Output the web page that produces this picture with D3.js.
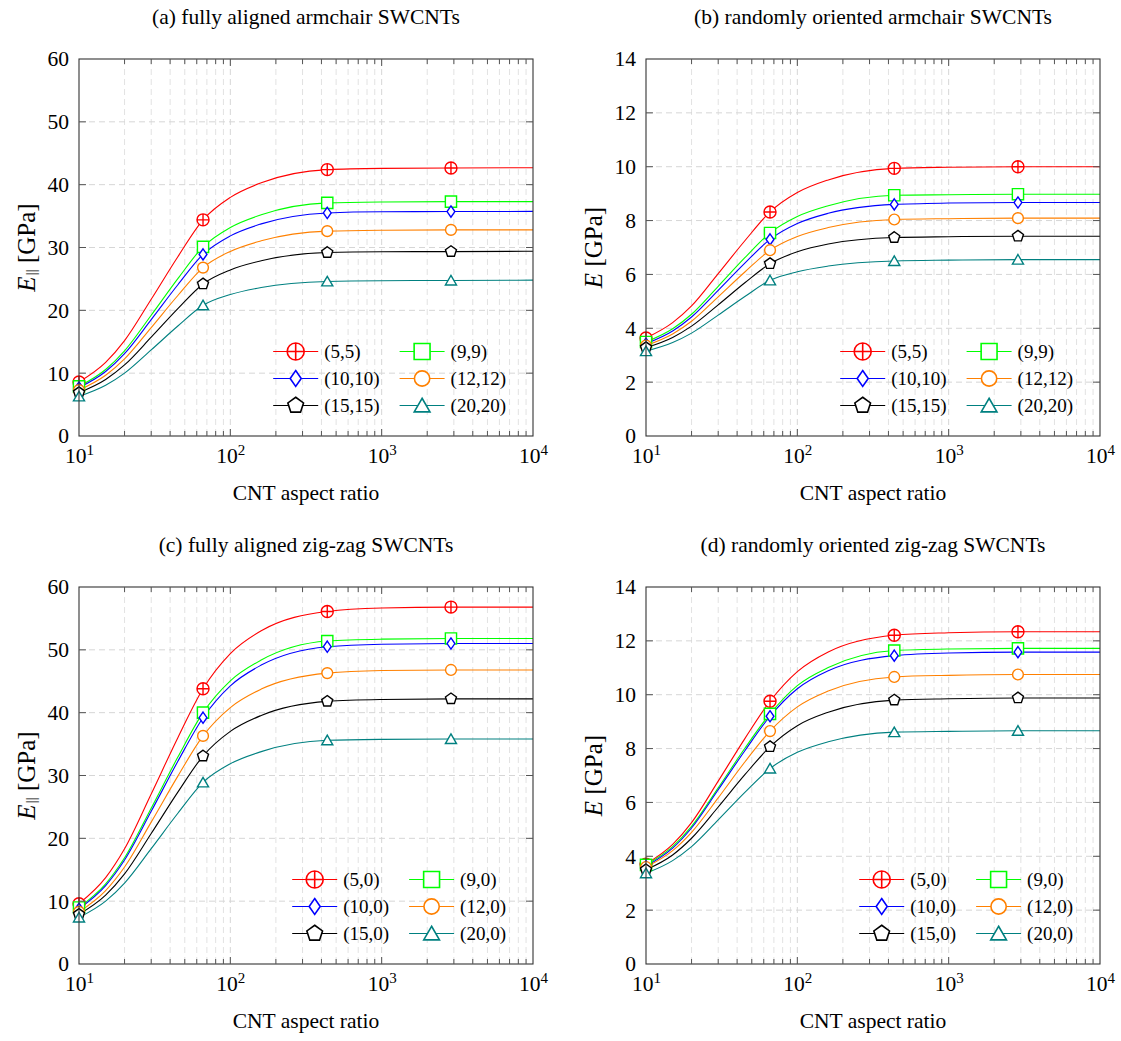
<!DOCTYPE html>
<html>
<head>
<meta charset="utf-8">
<script src="https://cdn.jsdelivr.net/npm/d3@7"></script>
<style>
body { margin: 0; background: #fff; }
text { font-family: "Liberation Serif", "Times New Roman", serif; fill: #000; }
</style>
</head>
<body>
<svg id="drawing_region"></svg>
<script>
const aspectRatio = [10, 15, 20, 30, 45, 66, 100, 160, 437, 1000, 2870, 10000];
const markerRatio = [10, 66, 437, 2870];

const armchairLabels = ["(5,5)", "(9,9)", "(10,10)", "(12,12)", "(15,15)", "(20,20)"];
const zigzagLabels = ["(5,0)", "(9,0)", "(10,0)", "(12,0)", "(15,0)", "(20,0)"];

// (a) fully aligned armchair, E_par [GPa]
const alignedArmchair = [
    [8.6, 11.72, 15.18, 21.76, 28.53, 34.4, 37.98, 40.30, 42.4, 42.6, 42.66, 42.7],
    [7.9, 10.59, 13.56, 19.22, 25.04, 30.1, 33.19, 35.21, 37.1, 37.25, 37.3, 37.3],
    [7.7, 10.27, 13.11, 18.52, 24.07, 28.9, 31.85, 33.76, 35.5, 35.7, 35.72, 35.75],
    [7.3, 9.66, 12.27, 17.25, 22.36, 26.8, 29.38, 31.06, 32.6, 32.75, 32.8, 32.8],
    [6.9, 8.99, 11.31, 15.72, 20.26, 24.2, 26.43, 27.89, 29.2, 29.33, 29.35, 29.4],
    [6.3, 8.06, 10.0, 13.70, 17.50, 20.8, 22.52, 23.64, 24.6, 24.72, 24.75, 24.8]
];
// (b) randomly oriented armchair, E [GPa]
const randomArmchair = [
    [3.64, 4.21, 4.83, 6.03, 7.25, 8.32, 9.04, 9.51, 9.94, 9.98, 10.0, 10.0],
    [3.49, 3.98, 4.52, 5.56, 6.62, 7.54, 8.15, 8.55, 8.94, 8.96, 8.98, 8.98],
    [3.43, 3.90, 4.42, 5.41, 6.42, 7.30, 7.89, 8.27, 8.60, 8.65, 8.67, 8.67],
    [3.36, 3.79, 4.26, 5.17, 6.09, 6.90, 7.41, 7.74, 8.04, 8.07, 8.09, 8.09],
    [3.28, 3.66, 4.08, 4.87, 5.69, 6.40, 6.84, 7.13, 7.37, 7.40, 7.42, 7.42],
    [3.15, 3.47, 3.82, 4.49, 5.18, 5.78, 6.10, 6.31, 6.50, 6.53, 6.55, 6.55]
];
// (c) fully aligned zig-zag
const alignedZigzag = [
    [9.6, 13.74, 18.33, 27.05, 36.02, 43.8, 49.4, 53.03, 56.1, 56.65, 56.8, 56.8],
    [9.0, 12.75, 16.90, 24.8, 32.93, 40.0, 45.07, 48.38, 51.4, 51.7, 51.8, 51.8],
    [8.8, 12.48, 16.55, 24.3, 32.26, 39.2, 44.27, 47.57, 50.5, 50.9, 51.0, 51.0],
    [8.3, 11.69, 15.44, 22.58, 29.9, 36.3, 40.81, 43.75, 46.3, 46.7, 46.8, 46.8],
    [7.9, 10.95, 14.33, 20.76, 27.35, 33.1, 37.02, 39.56, 41.8, 42.1, 42.2, 42.2],
    [7.4, 10.0, 12.88, 18.36, 23.99, 28.9, 31.87, 33.80, 35.6, 35.75, 35.8, 35.8]
];
// (d) randomly oriented zig-zag
const randomZigzag = [
    [3.71, 4.44, 5.25, 6.79, 8.37, 9.76, 10.86, 11.59, 12.21, 12.30, 12.34, 12.34],
    [3.68, 4.36, 5.11, 6.54, 8.01, 9.29, 10.34, 11.01, 11.64, 11.70, 11.72, 11.72],
    [3.63, 4.30, 5.05, 6.47, 7.92, 9.20, 10.22, 10.89, 11.45, 11.55, 11.58, 11.58],
    [3.60, 4.21, 4.89, 6.17, 7.50, 8.65, 9.55, 10.14, 10.66, 10.72, 10.75, 10.75],
    [3.50, 4.05, 4.67, 5.83, 7.03, 8.07, 8.85, 9.35, 9.80, 9.85, 9.88, 9.88],
    [3.37, 3.84, 4.36, 5.35, 6.37, 7.26, 7.86, 8.25, 8.61, 8.64, 8.66, 8.66]
];

const seriesColors = ['#ff0000', '#00ff00', '#0000ff', '#ff8000', '#000000', '#008080'];
const seriesShapes = ['oplus', 'square', 'diamond', 'circle', 'pentagon', 'triangle'];

const panels = [
    { title: "(a) fully aligned armchair SWCNTs", parallel: true, ymax: 60, ystep: 10,
      left: 79, top: 59, series: alignedArmchair, labels: armchairLabels },
    { title: "(b) randomly oriented armchair SWCNTs", parallel: false, ymax: 14, ystep: 2,
      left: 646, top: 59, series: randomArmchair, labels: armchairLabels },
    { title: "(c) fully aligned zig-zag SWCNTs", parallel: true, ymax: 60, ystep: 10,
      left: 79, top: 587, series: alignedZigzag, labels: zigzagLabels },
    { title: "(d) randomly oriented zig-zag SWCNTs", parallel: false, ymax: 14, ystep: 2,
      left: 646, top: 587, series: randomZigzag, labels: zigzagLabels }
];

const W = 454, H = 377;
const SERIF = '"Liberation Serif", "Times New Roman", serif';

const svg = d3.select('#drawing_region')
    .attr('width', 1121)
    .attr('height', 1041);

function markerPath(shape, s) {
    if (shape === 'oplus') {
        const r = 6 * s;
        return `M${-r},0A${r},${r} 0 1,0 ${r},0A${r},${r} 0 1,0 ${-r},0Z M${-r},0H${r}M0,${-r}V${r}`;
    }
    if (shape === 'square') {
        const h = 5.6 * s;
        return `M${-h},${-h}H${h}V${h}H${-h}Z`;
    }
    if (shape === 'diamond') {
        const w = 3.9 * s, h = 5.6 * s;
        return `M0,${-h}L${w},0L0,${h}L${-w},0Z`;
    }
    if (shape === 'circle') {
        const r = 5.4 * s;
        return `M${-r},0A${r},${r} 0 1,0 ${r},0A${r},${r} 0 1,0 ${-r},0Z`;
    }
    let n = shape === 'pentagon' ? 5 : 3;
    let r = (shape === 'pentagon' ? 5.8 : 6.4) * s;
    let pts = d3.range(n).map(k => {
        const a = -Math.PI / 2 + k * 2 * Math.PI / n;
        return [r * Math.cos(a), r * Math.sin(a) + (n === 3 ? r * 0.2 : 0)];
    });
    return 'M' + pts.map(p => p.join(',')).join('L') + 'Z';
}

function drawPanel(p) {
    const xscale = d3.scaleLog().domain([10, 10000]).range([p.left, p.left + W]);
    const yscale = d3.scaleLinear().domain([0, p.ymax]).range([p.top + H, p.top]);
    const bottom = p.top + H, right = p.left + W;
    const g = svg.append('g');

    const xticks = xscale.ticks();
    const isMajor = v => Math.abs(Math.log10(v) - Math.round(Math.log10(v))) < 1e-9;
    const yticks = d3.range(0, p.ymax + 0.001, p.ystep);

    // grid
    g.selectAll('.vgrid')
        .data(xticks.filter(v => v > 10 && v < 10000))
        .join('line')
        .attr('x1', d => xscale(d)).attr('x2', d => xscale(d))
        .attr('y1', p.top).attr('y2', bottom)
        .attr('stroke', d => isMajor(d) ? '#d6d6d6' : '#e2e2e2')
        .attr('stroke-width', 1)
        .attr('stroke-dasharray', '6,4');
    g.selectAll('.hgrid')
        .data(yticks.filter(v => v > 0 && v < p.ymax))
        .join('line')
        .attr('x1', p.left).attr('x2', right)
        .attr('y1', d => yscale(d)).attr('y2', d => yscale(d))
        .attr('stroke', '#d6d6d6')
        .attr('stroke-width', 1)
        .attr('stroke-dasharray', '6,4');

    // curves
    const line = d3.line()
        .x(d => xscale(d[0]))
        .y(d => yscale(d[1]))
        .curve(d3.curveMonotoneX);
    p.series.forEach((vals, i) => {
        const pts = aspectRatio.map((a, k) => [a, vals[k]]);
        g.append('path')
            .datum(pts)
            .attr('d', line)
            .attr('fill', 'none')
            .attr('stroke', seriesColors[i])
            .attr('stroke-width', 1.1);
    });
    p.series.forEach((vals, i) => {
        const pts = aspectRatio.map((a, k) => [a, vals[k]]).filter(d => markerRatio.includes(d[0]));
        g.selectAll(null)
            .data(pts)
            .join('path')
            .attr('transform', d => `translate(${xscale(d[0])},${yscale(d[1])})`)
            .attr('d', markerPath(seriesShapes[i], 1))
            .attr('fill', '#fff')
            .attr('stroke', seriesColors[i])
            .attr('stroke-width', 1.4);
    });

    // frame and inner ticks
    g.append('rect')
        .attr('x', p.left).attr('y', p.top)
        .attr('width', W).attr('height', H)
        .attr('fill', 'none')
        .attr('stroke', '#333')
        .attr('stroke-width', 1.1);
    xticks.filter(v => v > 10 && v < 10000).forEach(v => {
        const len = isMajor(v) ? 7 : 5;
        g.append('line').attr('x1', xscale(v)).attr('x2', xscale(v))
            .attr('y1', bottom).attr('y2', bottom - len).attr('stroke', '#555');
        g.append('line').attr('x1', xscale(v)).attr('x2', xscale(v))
            .attr('y1', p.top).attr('y2', p.top + len).attr('stroke', '#555');
    });
    yticks.filter(v => v > 0 && v < p.ymax).forEach(v => {
        g.append('line').attr('x1', p.left).attr('x2', p.left + 7)
            .attr('y1', yscale(v)).attr('y2', yscale(v)).attr('stroke', '#555');
        g.append('line').attr('x1', right - 7).attr('x2', right)
            .attr('y1', yscale(v)).attr('y2', yscale(v)).attr('stroke', '#555');
    });

    // tick labels through d3 axes
    const yaxis = d3.axisLeft(yscale).tickValues(yticks).tickSize(0).tickPadding(10);
    const yg = g.append('g').attr('transform', `translate(${p.left},0)`).call(yaxis);
    yg.select('.domain').remove();
    yg.attr('font-family', null);
    yg.selectAll('text').attr('font-size', 21.5).attr('fill', '#000');

    const xaxis = d3.axisBottom(xscale).tickValues([10, 100, 1000, 10000]).tickSize(0).tickPadding(0);
    const xg = g.append('g').attr('transform', `translate(0,${bottom})`).call(xaxis);
    xg.select('.domain').remove();
    xg.attr('font-family', null);
    xg.selectAll('text')
        .attr('font-size', 21.5).attr('fill', '#000')
        .attr('dy', null).attr('y', 27)
        .each(function (d) {
            const t = d3.select(this);
            t.text('10');
            t.append('tspan').attr('font-size', 15).attr('dy', -8).text(Math.round(Math.log10(d)));
        });

    // titles
    g.append('text')
        .attr('x', p.left + W / 2).attr('y', p.top - 35)
        .attr('text-anchor', 'middle').attr('font-size', 21.5)
        .text(p.title);
    g.append('text')
        .attr('x', p.left + W / 2).attr('y', bottom + 64)
        .attr('text-anchor', 'middle').attr('font-size', 21.5)
        .text('CNT aspect ratio');
    const yl = g.append('text')
        .attr('transform', `translate(${p.left - 53},${p.top + H / 2}) rotate(-90)`)
        .attr('text-anchor', 'middle').attr('dominant-baseline', 'central')
        .attr('font-size', 25);
    yl.append('tspan').attr('font-style', 'italic').text('E');
    if (p.parallel) {
        yl.append('tspan').attr('font-size', 15).attr('dy', 5).attr('dx', 1).text('||');
        yl.append('tspan').attr('dy', -5).text(' [GPa]');
    } else {
        yl.append('tspan').text(' [GPa]');
    }

    // legend, right-anchored, 3 rows x 2 columns
    const lg = g.append('g');
    const texts = p.labels.map((lab, i) => lg.append('text')
        .style('font-family', SERIF)
        .attr('font-size', 19).attr('dominant-baseline', 'central').text(lab));
    const widths = texts.map(t => t.node().getComputedTextLength());
    const w1 = d3.max([widths[0], widths[2], widths[4]]);
    const w2 = d3.max([widths[1], widths[3], widths[5]]);
    const col2Text = right - 27 - w2;
    const col2Line = col2Text - 6 - 45;
    const col1Text = col2Line - 20 - w1;
    const col1Line = col1Text - 6 - 45;
    p.labels.forEach((lab, i) => {
        const col = i % 2, row = Math.floor(i / 2);
        const ly = bottom - 84.5 + row * 27;
        const lx = col === 0 ? col1Line : col2Line;
        const tx = col === 0 ? col1Text : col2Text;
        lg.append('line').attr('x1', lx).attr('x2', lx + 45)
            .attr('y1', ly).attr('y2', ly)
            .attr('stroke', seriesColors[i]).attr('stroke-width', 1.1);
        lg.append('path')
            .attr('transform', `translate(${lx + 22.5},${ly})`)
            .attr('d', markerPath(seriesShapes[i], 1.42))
            .attr('fill', '#fff').attr('stroke', seriesColors[i]).attr('stroke-width', 1.6);
        texts[i].attr('x', tx).attr('y', ly);
    });
}

panels.forEach(drawPanel);
svg.selectAll('text').style('font-family', SERIF);
</script>
</body>
</html>
